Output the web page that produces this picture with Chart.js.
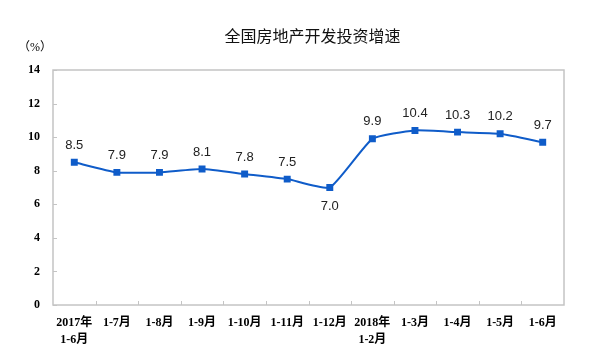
<!DOCTYPE html>
<html><head><meta charset="utf-8">
<script src="https://cdn.jsdelivr.net/npm/chart.js@4"></script>
<style>html,body{margin:0;padding:0;background:#fff}</style>
</head><body>
<canvas id="c" width="599" height="361"></canvas>
<script>
const chartTitle = "全国房地产开发投资增速";
const unitLabel = "（%）";
const categories = [["2017年","1-6月"],"1-7月","1-8月","1-9月","1-10月","1-11月","1-12月",["2018年","1-2月"],"1-3月","1-4月","1-5月","1-6月"];
const growth = [8.5,7.9,7.9,8.1,7.8,7.5,7.0,9.9,10.4,10.3,10.2,9.7];
const yTicks = [0,2,4,6,8,10,12,14];

const LINE = '#0f5cc9';
const FRAME = '#c4c4c4';

const deco = {
  id: 'deco',
  beforeDatasetsDraw(chart) {
    const ctx = chart.ctx, a = chart.chartArea;
    const ys = chart.scales.y;
    ctx.save();
    ctx.strokeStyle = FRAME;
    ctx.lineWidth = 1.5;
    ctx.strokeRect(a.left, a.top, a.right - a.left, a.bottom - a.top);
    ctx.lineWidth = 1;
    ctx.beginPath();
    yTicks.forEach(v => {
      const y = Math.round(ys.getPixelForValue(v)) + 0.5;
      ctx.moveTo(a.left, y); ctx.lineTo(a.left + 4, y);
    });
    const n = categories.length;
    const step = (a.right - a.left) / n;
    for (let i = 1; i < n; i++) {
      const x = Math.round(a.left + i * step) + 0.5;
      ctx.moveTo(x, a.bottom); ctx.lineTo(x, a.bottom - 4);
    }
    ctx.stroke();
    ctx.restore();
  },
  afterDatasetsDraw(chart) {
    const ctx = chart.ctx;
    const meta = chart.getDatasetMeta(0);
    ctx.save();
    ctx.font = '13px "Liberation Sans", Arial, sans-serif';
    ctx.fillStyle = '#222';
    ctx.textAlign = 'center';
    ctx.textBaseline = 'middle';
    meta.data.forEach((pt, i) => {
      const v = growth[i];
      const prev = growth[i - 1], next = growth[i + 1];
      const below = prev !== undefined && next !== undefined && v < prev && v < next;
      ctx.fillText(v.toFixed(1), pt.x, below ? pt.y + 19 : pt.y - 17);
    });
    ctx.restore();
  },
  afterDraw(chart) {
    const ctx = chart.ctx, a = chart.chartArea;
    ctx.save();
    ctx.fillStyle = '#111';
    ctx.textAlign = 'center';
    ctx.textBaseline = 'middle';
    ctx.font = '16px "Noto Sans CJK SC", sans-serif';
    ctx.fillText(chartTitle, (a.left + a.right) / 2 + 4, 36);
    ctx.font = '12px "Liberation Serif", "Noto Sans CJK SC", serif';
    ctx.fillStyle = '#000';
    ctx.fillText(unitLabel, 35, 48);
    ctx.restore();
  }
};

new Chart(document.getElementById('c'), {
  type: 'line',
  data: {
    labels: categories,
    datasets: [{
      data: growth,
      borderColor: LINE,
      backgroundColor: LINE,
      borderWidth: 2,
      pointStyle: 'rect',
      pointRadius: 3.5,
      pointHoverRadius: 3.5,
      tension: 0.15,
      fill: false
    }]
  },
  options: {
    responsive: false,
    animation: false,
    layout: { padding: { top: 70, right: 35, left: 0, bottom: 0 } },
    plugins: { legend: { display: false }, tooltip: { enabled: false }, title: { display: false } },
    scales: {
      x: {
        offset: true,
        grid: { display: false, drawTicks: false },
        border: { display: false },
        ticks: {
          color: '#000',
          padding: 10,
          autoSkip: false,
          maxRotation: 0,
          font: { family: '"Liberation Serif", "Noto Sans CJK SC", serif', size: 12, weight: 'bold', lineHeight: 1.4 }
        },
        afterFit(s) { s.height = 56; }
      },
      y: {
        min: 0, max: 14,
        afterBuildTicks(s) { s.ticks = yTicks.map(v => ({ value: v })); },
        grid: { display: false, drawTicks: false },
        border: { display: false },
        ticks: {
          color: '#000',
          padding: 13,
          font: { family: '"Liberation Serif", serif', size: 12, weight: 'bold' }
        },
        afterFit(s) { s.width = 53; }
      }
    }
  },
  plugins: [deco]
});
</script>
</body></html>
